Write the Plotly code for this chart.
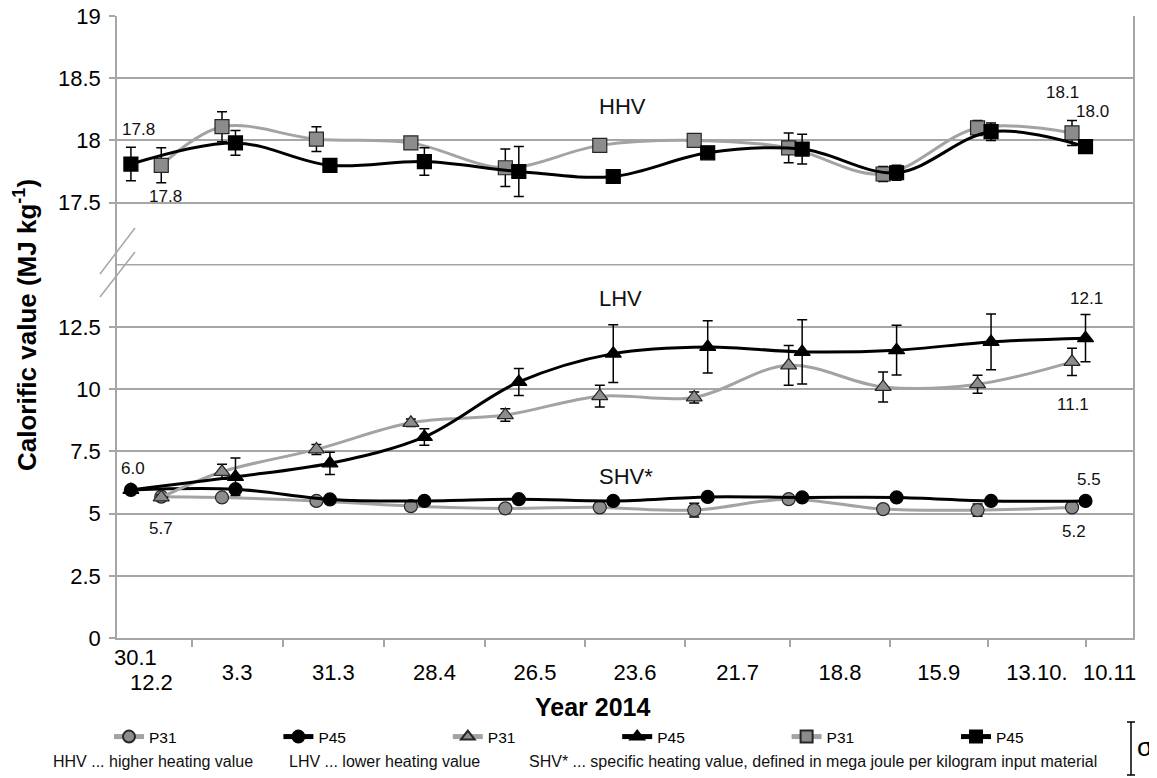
import pandas as pd
import plotly.graph_objects as go

# sampling dates, P45 was sampled a few days after P31
dates_p31 = ["2014-02-13", "2014-03-03", "2014-03-31", "2014-04-28", "2014-05-26", "2014-06-23",
             "2014-07-21", "2014-08-18", "2014-09-15", "2014-10-13", "2014-11-10"]
dates_p45 = ["2014-02-04", "2014-03-07", "2014-04-04", "2014-05-02", "2014-05-30", "2014-06-27",
             "2014-07-25", "2014-08-22", "2014-09-19", "2014-10-17", "2014-11-14"]

# HHV (MJ/kg) and standard deviations
hhv_p31 = [17.80, 18.11, 18.01, 17.98, 17.78, 17.96, 18.00, 17.94, 17.73, 18.10, 18.06]
hhv_p31_sd = [0.14, 0.12, 0.10, 0.03, 0.15, 0.03, 0.05, 0.12, 0.06, 0.06, 0.10]
hhv_p45 = [17.81, 17.98, 17.80, 17.83, 17.75, 17.71, 17.90, 17.93, 17.74, 18.07, 17.95]
hhv_p45_sd = [0.135, 0.10, 0.02, 0.11, 0.20, 0.02, 0.03, 0.12, 0.06, 0.07, 0.03]

# LHV
lhv_p31 = [5.65, 6.68, 7.58, 8.65, 8.96, 9.72, 9.67, 10.96, 10.09, 10.20, 11.10]
lhv_p31_sd = [0.10, 0.30, 0.20, 0.15, 0.25, 0.44, 0.22, 0.80, 0.60, 0.36, 0.55]
lhv_p45 = [5.95, 6.48, 7.02, 8.08, 10.29, 11.43, 11.70, 11.50, 11.57, 11.90, 12.05]
lhv_p45_sd = [0.05, 0.75, 0.45, 0.33, 0.54, 1.16, 1.05, 1.29, 1.00, 1.12, 0.95]

# SHV*
shv_p31 = [5.68, 5.65, 5.51, 5.30, 5.21, 5.25, 5.14, 5.58, 5.18, 5.14, 5.25]
shv_p31_sd = [0.10, 0.10, 0.10, 0.10, 0.10, 0.10, 0.28, 0.10, 0.10, 0.25, 0.10]
shv_p45 = [5.95, 5.98, 5.57, 5.51, 5.58, 5.51, 5.67, 5.65, 5.65, 5.51, 5.51]
shv_p45_sd = [0.05, 0.05, 0.05, 0.05, 0.05, 0.05, 0.05, 0.05, 0.05, 0.05, 0.05]

# x axis
x_range = ["2014-01-30 21:00", "2014-11-28 02:00"]
tick_marks = ["2014-02-22 00:00", "2014-03-21 00:00", "2014-04-20 00:00", "2014-05-20 00:00",
              "2014-06-18 14:00", "2014-07-18 07:00", "2014-08-18 10:00", "2014-09-17 00:00",
              "2014-10-16 00:00", "2014-11-14 05:00"]
tick_labels = ["3.3", "31.3", "28.4", "26.5", "23.6", "21.7", "18.8", "15.9", "13.10.", "10.11"]

bounds = pd.to_datetime(tick_marks + [x_range[1]], format="%Y-%m-%d %H:%M")
label_pos = [(bounds[i] + (bounds[i + 1] - bounds[i]) / 2).strftime("%Y-%m-%d %H:%M")
             for i in range(len(tick_labels))]

GRID = "#a6a6a6"
GRAY_LINE = "#a3a3a3"
GRAY_FILL = "#8c8c8c"
FONT = "Liberation Sans, Arial, sans-serif"
# the page body adds an 8px offset, so the figure is 8px smaller than the window
OFF = 8
W, H = 1157 - OFF, 778 - OFF

fig = go.Figure()


def add_series(x, y, sd, symbol, size, gray, yaxis, name):
    fig.add_trace(go.Scatter(
        x=x, y=y, name=name, yaxis=yaxis,
        mode="lines+markers",
        line=dict(color=GRAY_LINE if gray else "black", width=3, shape="spline", smoothing=1),
        marker=dict(symbol=symbol, size=size, color=GRAY_FILL if gray else "black",
                    line=dict(color="#262626" if gray else "black", width=1.2)),
        error_y=dict(type="data", array=sd, color="black", thickness=1.5, width=5),
    ))


add_series(dates_p31, shv_p31, shv_p31_sd, "circle", 13, True, "y", "P31")
add_series(dates_p45, shv_p45, shv_p45_sd, "circle", 13, False, "y", "P45")
add_series(dates_p31, lhv_p31, lhv_p31_sd, "triangle-up", 14, True, "y", "P31")
add_series(dates_p45, lhv_p45, lhv_p45_sd, "triangle-up", 14, False, "y", "P45")
add_series(dates_p31, hhv_p31, hhv_p31_sd, "square", 14, True, "y2", "P31")
add_series(dates_p45, hhv_p45, hhv_p45_sd, "square", 14, False, "y2", "P45")

# value labels next to first and last points
labels = [
    (dates_p45[0], hhv_p45[0], "17.8", "y2", 8, 35),
    (dates_p31[0], hhv_p31[0], "17.8", "y2", 4, -31),
    (dates_p31[-1], hhv_p31[-1], "18.1", "y2", -10, 40),
    (dates_p45[-1], hhv_p45[-1], "18.0", "y2", 7, 35),
    (dates_p45[0], lhv_p45[0], "6.0", "y", 2, 21),
    (dates_p31[0], lhv_p31[0], "5.7", "y", 0, -31),
    (dates_p45[-1], lhv_p45[-1], "12.1", "y", 1, 40),
    (dates_p31[-1], lhv_p31[-1], "11.1", "y", 1, -43),
    (dates_p45[-1], shv_p45[-1], "5.5", "y", 3, 21),
    (dates_p31[-1], shv_p31[-1], "5.2", "y", 2, -24),
]
annotations = []
for x, y, t, yref, dx, dy in labels:
    annotations.append(dict(x=x, y=y, xref="x", yref=yref, text=t, showarrow=False,
                            xshift=dx, yshift=dy, font=dict(size=17, color="#111111")))

# group names
for t, y, yref in [("HHV", 18.27, "y2"), ("LHV", 13.65, "y"), ("SHV*", 6.5, "y")]:
    annotations.append(dict(x=dates_p31[5], y=y, xref="x", yref=yref, text=t, showarrow=False,
                            xanchor="left", xshift=-3, font=dict(size=22, color="#111111")))


# page pixel -> paper fraction (plot area spans page x 117..1133, y 16..638)
def px_x(px):
    return (px - 117) / 1016


def px_y(py):
    return (638 - py) / 622


def page_text(text, px, py, size, color="black", **kw):
    d = dict(x=px_x(px), y=px_y(py), xref="paper", yref="paper", text=text, showarrow=False,
             xanchor="center", yanchor="middle", font=dict(size=size, color=color))
    d.update(kw)
    return d


# first two-line category label
annotations.append(page_text("30.1", 135, 658, 22))
annotations.append(page_text("12.2", 151, 682, 22))

# axis titles
annotations.append(page_text("<b>Year 2014</b>", 592, 707, 25))
annotations.append(page_text("<b>Calorific value (MJ kg<sup>-1</sup>)</b>", 25, 325, 26, textangle=-90))

# footnote
for t, px in [("HHV ... higher heating value", 51), ("LHV ... lower heating value", 287),
              ("SHV* ... specific heating value, defined in mega joule per kilogram input material", 527)]:
    annotations.append(page_text(t, px, 761, 16, color="#111111", xanchor="left"))
annotations.append(page_text("σ", 1145, 747, 26))

shapes = []
# gridline where the two axis segments meet (no tick there)
shapes.append(dict(type="line", xref="paper", yref="paper", x0=0, x1=1, y0=0.6, y1=0.6,
                   line=dict(color=GRID, width=1.5)))
# axis break marks
for y0, y1 in [(228, 274), (252, 297)]:
    shapes.append(dict(type="line", xref="paper", yref="paper", x0=px_x(135), y0=px_y(y0),
                       x1=px_x(100), y1=px_y(y1), line=dict(color=GRID, width=1.5)))
# sigma error bar symbol
sx = px_x(1131)
shapes.append(dict(type="line", xref="paper", yref="paper", x0=sx, x1=sx, y0=px_y(722), y1=px_y(775),
                   line=dict(color="black", width=1.5)))
for py in (722, 775):
    shapes.append(dict(type="line", xref="paper", yref="paper", x0=px_x(1127), x1=px_x(1135),
                       y0=px_y(py), y1=px_y(py), line=dict(color="black", width=1.5)))

yaxis_style = dict(showgrid=True, gridcolor=GRID, gridwidth=1.5, zeroline=False,
                   showline=True, linecolor=GRID, linewidth=1.5, mirror=True,
                   ticks="outside", ticklen=6, tickcolor=GRID, tickwidth=1.5,
                   tickfont=dict(size=22), ticklabelstandoff=4, ticklabeloverflow="allow")

fig.update_layout(
    width=W, height=H,
    margin=dict(l=117 - OFF, r=24, t=16 - OFF, b=140, autoexpand=False),
    plot_bgcolor="white", paper_bgcolor="white",
    font=dict(family=FONT, color="black"),
    showlegend=True,
    legend=dict(orientation="h", xref="container", yref="container",
                x=(115 - OFF - 6) / W, xanchor="left", y=1 - (720 - OFF) / H, yanchor="top",
                entrywidth=124.4, entrywidthmode="pixels", font=dict(size=15.5),
                itemsizing="constant", traceorder="normal", tracegroupgap=0),
    annotations=annotations,
    shapes=shapes,
    xaxis=dict(type="date", range=x_range, showgrid=False, showline=True, linecolor=GRID, linewidth=1.5,
               tickmode="array", tickvals=label_pos, ticktext=tick_labels, ticks="",
               ticklabelstandoff=14, tickfont=dict(size=22),
               minor=dict(tickmode="array", tickvals=tick_marks, ticks="outside", ticklen=7,
                          tickcolor=GRID, tickwidth=1.5, showgrid=False)),
    yaxis=dict(domain=[0, 0.6], range=[0, 15], tickmode="array",
               tickvals=[0, 2.5, 5, 7.5, 10, 12.5],
               ticktext=["0", "2.5", "5", "7.5", "10", "12.5"], **yaxis_style),
    yaxis2=dict(domain=[0.6, 1], range=[17, 19], anchor="x", tickmode="array",
                tickvals=[17.5, 18, 18.5, 19], **yaxis_style),
)

fig.write_html("out.html")
